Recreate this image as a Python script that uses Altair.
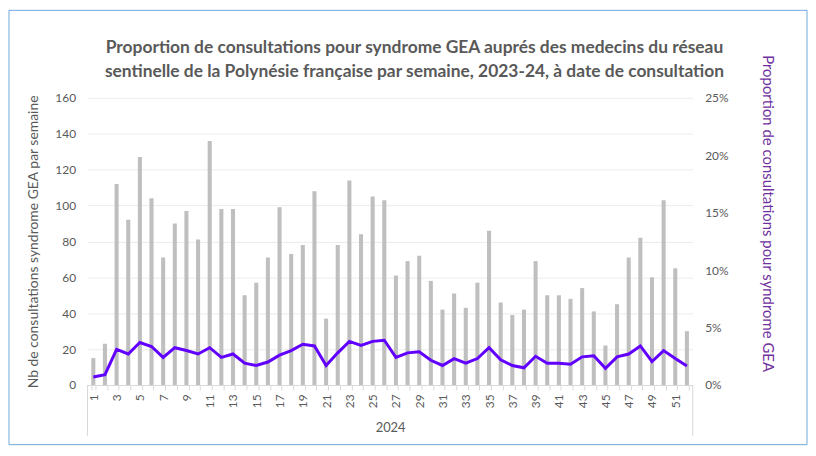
import altair as alt
import pandas as pd

weeks = list(range(1, 53))
counts = [15, 23, 112, 92, 127, 104, 71, 90, 97, 81,
          136, 98, 98, 50, 57, 71, 99, 73, 78, 108,
          37, 78, 114, 84, 105, 103, 61, 69, 72, 58,
          42, 51, 43, 57, 86, 46, 39, 42, 69, 50,
          50, 48, 54, 41, 22, 45, 71, 82, 60, 103,
          65, 30]
props_pct = [0.7, 0.9, 3.1, 2.7, 3.7, 3.35, 2.4, 3.25, 3.0, 2.7,
             3.25, 2.4, 2.7, 1.9, 1.7, 2.0, 2.6, 3.0, 3.55, 3.4,
             1.7, 2.8, 3.8, 3.45, 3.8, 3.9, 2.4, 2.8, 2.9, 2.15,
             1.7, 2.3, 1.9, 2.3, 3.25, 2.2, 1.7, 1.5, 2.5, 1.9,
             1.9, 1.8, 2.45, 2.55, 1.45, 2.45, 2.7, 3.4, 2.05, 3.0,
             2.3, 1.65]
left_ticks = [0, 20, 40, 60, 80, 100, 120, 140, 160]
right_ticks = [0, 0.05, 0.10, 0.15, 0.20, 0.25]
title_lines = [
    "Proportion de consultations pour syndrome GEA auprés des medecins du réseau",
    "sentinelle de la Polynésie française par semaine, 2023-24, à date de consultation",
]
year_label = "2024"
left_title = "Nb de consultations syndrome GEA par semaine"
right_title = "Proportion de consultations pour syndrome GEA"

W, H = 609, 289
FONT = "Lato"
GRAY = "#595959"
PURPLE = "#7030a0"

df = pd.DataFrame({"semaine": weeks, "nb": counts,
                   "prop": [p / 100 for p in props_pct]})
one = pd.DataFrame({"k": [0]})

xenc = alt.X(
    "semaine:O",
    scale=alt.Scale(paddingInner=0.65, paddingOuter=0.325),
    axis=alt.Axis(
        title=year_label, labelAngle=-90,
        labelExpr="datum.value % 2 == 1 ? datum.label : ''",
        tickBand="extent", ticks=True, tickSize=5, tickColor="#d9d9d9",
        domainColor="#d9d9d9", labelColor=GRAY, labelFontSize=12,
        labelFont=FONT, labelPadding=4, titleFont=FONT, titleFontSize=13,
        titleFontWeight="normal", titleColor=GRAY, titlePadding=14,
    ),
)

bars = alt.Chart(df).mark_bar(color="#bfbfbf").encode(
    x=xenc,
    y=alt.Y("nb:Q", scale=alt.Scale(domain=[0, 160]),
            axis=alt.Axis(values=left_ticks, title=left_title, ticks=False,
                          domain=False, gridColor="#ececec", labelColor=GRAY,
                          labelFont=FONT, labelFontSize=12, labelPadding=12,
                          titleFont=FONT, titleFontSize=14,
                          titleFontWeight="normal", titleColor=GRAY,
                          titlePadding=14)),
)

line = alt.Chart(df).mark_line(color="#6200ff", strokeWidth=3).encode(
    x=xenc,
    y=alt.Y("prop:Q", scale=alt.Scale(domain=[0, 0.25]),
            axis=alt.Axis(orient="right", values=right_ticks, format=".0%",
                          title=right_title, grid=False, ticks=False,
                          domain=False, labelColor=GRAY, labelFont=FONT,
                          labelFontSize=12, labelPadding=12, titleFont=FONT,
                          titleFontSize=15, titleFontWeight="normal",
                          titleColor=PURPLE, titleAngle=90, titleY=116,
                          titlePadding=32)),
)

border = alt.Chart(one).mark_rect(fill="transparent", stroke="#6fa8dc",
                                  strokeWidth=1).encode(
    x=alt.value(-79), x2=alt.value(W + 115),
    y=alt.value(-88), y2=alt.value(H + 60),
)

bracket_left = alt.Chart(one).mark_rule(color="#d9d9d9", strokeWidth=1).encode(
    x=alt.value(0), y=alt.value(H), y2=alt.value(H + 51),
)
bracket_right = alt.Chart(one).mark_rule(color="#d9d9d9", strokeWidth=1).encode(
    x=alt.value(W), y=alt.value(H), y2=alt.value(H + 51),
)

title = alt.Chart(one).mark_text(
    text=title_lines, font=FONT, fontSize=17.5, fontWeight="bold", color=GRAY,
    lineHeight=24, align="center", baseline="middle",
).encode(x=alt.value(329), y=alt.value(-50))

chart = alt.layer(border, bars, line, bracket_left, bracket_right,
                  title).resolve_scale(
    y="independent"
).properties(width=W, height=H, padding=0).configure_view(stroke=None)

chart.save("out.html", embed_options={"renderer": "svg", "actions": False})
